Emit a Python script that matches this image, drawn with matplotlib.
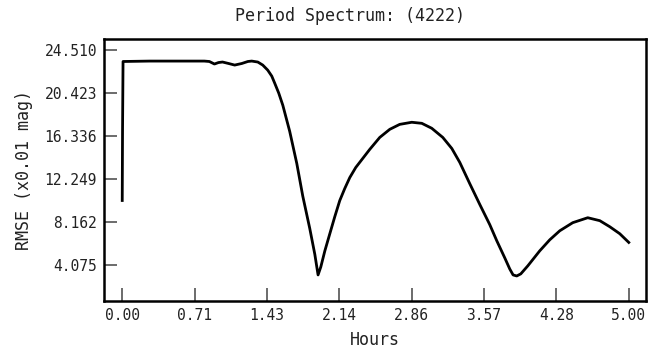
import matplotlib
matplotlib.use('Agg')
import matplotlib.pyplot as plt

# period spectrum
hours = [0.0, 0.003, 0.008, 0.27, 0.57, 0.81, 0.86, 0.91, 0.95, 0.99, 1.05, 1.11,
         1.18, 1.24, 1.278, 1.338, 1.387, 1.436, 1.476, 1.505, 1.545, 1.585,
         1.653, 1.723, 1.782, 1.851, 1.901, 1.933, 1.96, 2.0, 2.049, 2.098, 2.147,
         2.196, 2.246, 2.305, 2.374, 2.443, 2.542, 2.641, 2.739, 2.858, 2.957,
         3.055, 3.164, 3.253, 3.332, 3.43, 3.53, 3.628, 3.697, 3.776, 3.825,
         3.858, 3.894, 3.934, 4.003, 4.121, 4.22, 4.319, 4.447, 4.595, 4.714,
         4.813, 4.911, 5.0]
rmse = [10.2, 16.9, 23.42, 23.46, 23.46, 23.46, 23.42, 23.18, 23.32, 23.37, 23.23, 23.08,
        23.23, 23.42, 23.46, 23.37, 23.08, 22.6, 22.03, 21.36, 20.41, 19.26,
        16.78, 13.72, 10.62, 7.54, 5.08, 3.12, 3.88, 5.41, 7.04, 8.66, 10.19,
        11.33, 12.38, 13.34, 14.2, 15.06, 16.2, 16.97, 17.44, 17.64, 17.54,
        17.07, 16.2, 15.15, 13.82, 11.81, 9.81, 7.9, 6.37, 4.74, 3.69,
        3.12, 3.02, 3.22, 3.98, 5.41, 6.46, 7.32, 8.09, 8.56, 8.28,
        7.7, 7.04, 6.21]

xtick_labels = ['0.00', '0.71', '1.43', '2.14', '2.86', '3.57', '4.28', '5.00']
ytick_labels = ['4.075', '8.162', '12.249', '16.336', '20.423', '24.510']

plt.rcParams['font.family'] = ['DejaVu Sans Mono']
txt = '#222222'

fig = plt.figure(figsize=(6.57, 3.52), dpi=100)
ax = fig.add_axes([104/657, 1-301/352, (646-104)/657, (301-39)/352])

ax.plot(hours, rmse, color='black', linewidth=2.0, solid_joinstyle='round')

ax.set_xlim(-0.18, 5.17)
ax.set_ylim(0.64, 25.56)

xt = [5.0 * k / 7 for k in range(8)]
ax.set_xticks(xt)
ax.set_xticklabels(xtick_labels)
ax.set_yticks([float(v) for v in ytick_labels])
ax.set_yticklabels(ytick_labels)

ax.tick_params(axis='both', direction='in', length=9.5, width=1.1, color='#444444',
               labelsize=10.5, labelcolor=txt, top=False, right=False)
ax.tick_params(axis='x', pad=5)
ax.tick_params(axis='y', pad=5)

for s in ax.spines.values():
    s.set_linewidth(1.8)
    s.set_color('black')

ax.set_xlabel('Hours', fontsize=12, color=txt, labelpad=6)
ax.set_ylabel('RMSE (x0.01 mag)', fontsize=12, color=txt, labelpad=8)
fig.text(350/657, 1-16/352, 'Period Spectrum: (4222)', fontsize=12, color=txt,
         ha='center', va='center')

fig.savefig('out.png', dpi=100, facecolor='white')
